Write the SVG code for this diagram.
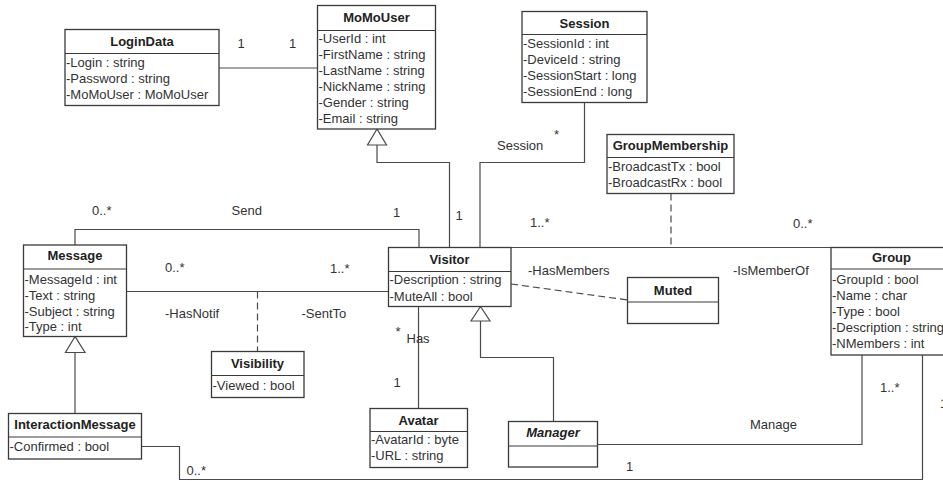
<svg xmlns="http://www.w3.org/2000/svg" width="943" height="481" viewBox="0 0 943 481">
<style>
.box{fill:#fff;stroke:#3a3a3a;stroke-width:1.3}
.div{stroke:#3a3a3a;stroke-width:1.2}
.t{font-family:"Liberation Sans",Arial,sans-serif;font-size:13px;fill:#333}
.ti{font-family:"Liberation Sans",Arial,sans-serif;font-size:13px;font-weight:bold;fill:#222;text-anchor:middle}
.ln{fill:none;stroke:#4a4a4a;stroke-width:1.2}
.dash{fill:none;stroke:#4a4a4a;stroke-width:1.2;stroke-dasharray:7 4}
.tri{fill:#fff;stroke:#4a4a4a;stroke-width:1.2}
</style>
<rect width="943" height="481" fill="#fff"/>
<g id="connectors">
<path class="ln" d="M219,68 H317.5"/>
<path class="ln" d="M377,145 V162.5 H449.5 V247.5"/>
<polygon class="tri" points="377,129 367.5,145 386.5,145"/>
<path class="ln" d="M584.5,102.7 V162.5 H480 V247.5"/>
<path class="ln" d="M75,245 V229.5 H419 V247.5"/>
<path class="ln" d="M126.5,291.5 H388.5"/>
<path class="dash" d="M257.5,291.5 V351.5"/>
<path class="ln" d="M511,247.5 H831"/>
<path class="dash" d="M671,193.5 V247"/>
<path class="dash" d="M511,284 L627.5,300"/>
<path class="ln" d="M418.5,306.5 V408.5"/>
<path class="ln" d="M480.5,321 V357.5 H553.5 V421.5"/>
<polygon class="tri" points="480.5,306.5 471,321 490,321"/>
<path class="ln" d="M75,352.5 V413.5"/>
<polygon class="tri" points="75,336.5 65.5,352.5 85,352.5"/>
<path class="ln" d="M597.5,444.5 H862 V355"/>
<path class="ln" d="M141.5,446.5 H179.5 V479.5 H922.5 V355"/>
<text class="t" x="237.5" y="48">1</text>
<text class="t" x="289" y="48">1</text>
<text class="t" x="497" y="150">Session</text>
<text class="t" x="554" y="138.5">*</text>
<text class="t" x="92" y="215">0..*</text>
<text class="t" x="231.5" y="215">Send</text>
<text class="t" x="393" y="217">1</text>
<text class="t" x="455.5" y="220">1</text>
<text class="t" x="530" y="226.5">1..*</text>
<text class="t" x="793" y="228">0..*</text>
<text class="t" x="165" y="272">0..*</text>
<text class="t" x="165" y="318">-HasNotif</text>
<text class="t" x="301.5" y="318">-SentTo</text>
<text class="t" x="330" y="273">1..*</text>
<text class="t" x="528" y="275">-HasMembers</text>
<text class="t" x="733" y="275">-IsMemberOf</text>
<text class="t" x="395.5" y="336">*</text>
<text class="t" x="406.5" y="343">Has</text>
<text class="t" x="393.5" y="386.5">1</text>
<text class="t" x="750" y="429">Manage</text>
<text class="t" x="880" y="391.5">1..*</text>
<text class="t" x="626" y="471">1</text>
<text class="t" x="186.5" y="475">0..*</text>
<text class="t" x="940" y="408">1</text>
</g>
<g id="LoginData">
<rect class="box" x="65" y="29.5" width="154" height="76"/>
<line class="div" x1="65" y1="53.5" x2="219" y2="53.5"/>
<text class="ti" x="142" y="46">LoginData</text>
<text class="t" x="66" y="67">-Login : string</text>
<text class="t" x="66" y="83">-Password : string</text>
<text class="t" x="66" y="99">-MoMoUser : MoMoUser</text>
</g>
<g id="MoMoUser">
<rect class="box" x="317.5" y="5.5" width="118" height="123.5"/>
<line class="div" x1="317.5" y1="30.5" x2="435.5" y2="30.5"/>
<text class="ti" x="376.5" y="22">MoMoUser</text>
<text class="t" x="318.5" y="43">-UserId : int</text>
<text class="t" x="318.5" y="59">-FirstName : string</text>
<text class="t" x="318.5" y="75">-LastName : string</text>
<text class="t" x="318.5" y="91">-NickName : string</text>
<text class="t" x="318.5" y="107">-Gender : string</text>
<text class="t" x="318.5" y="123">-Email : string</text>
</g>
<g id="Session">
<rect class="box" x="522" y="11.5" width="125" height="91"/>
<line class="div" x1="522" y1="34.5" x2="647" y2="34.5"/>
<text class="ti" x="584.5" y="28">Session</text>
<text class="t" x="523" y="47.5">-SessionId : int</text>
<text class="t" x="523" y="63.5">-DeviceId : string</text>
<text class="t" x="523" y="79.5">-SessionStart : long</text>
<text class="t" x="523" y="95.5">-SessionEnd : long</text>
</g>
<g id="GroupMembership">
<rect class="box" x="607" y="134.5" width="127" height="59"/>
<line class="div" x1="607" y1="157.5" x2="734" y2="157.5"/>
<text class="ti" x="670.5" y="150">GroupMembership</text>
<text class="t" x="608" y="171">-BroadcastTx : bool</text>
<text class="t" x="608" y="187">-BroadcastRx : bool</text>
</g>
<g id="Message">
<rect class="box" x="23.5" y="245" width="103" height="91.5"/>
<line class="div" x1="23.5" y1="269" x2="126.5" y2="269"/>
<text class="ti" x="75" y="260">Message</text>
<text class="t" x="24.5" y="283.5">-MessageId : int</text>
<text class="t" x="24.5" y="299.5">-Text : string</text>
<text class="t" x="24.5" y="315.5">-Subject : string</text>
<text class="t" x="24.5" y="331">-Type : int</text>
</g>
<g id="Visitor">
<rect class="box" x="388.5" y="247.5" width="122.5" height="59"/>
<line class="div" x1="388.5" y1="271.5" x2="511" y2="271.5"/>
<text class="ti" x="449.5" y="264">Visitor</text>
<text class="t" x="389.5" y="284">-Description : string</text>
<text class="t" x="389.5" y="300.5">-MuteAll : bool</text>
</g>
<g id="Visibility">
<rect class="box" x="211.5" y="351.5" width="92.5" height="46"/>
<line class="div" x1="211.5" y1="375.5" x2="304" y2="375.5"/>
<text class="ti" x="257.5" y="367.5">Visibility</text>
<text class="t" x="212.5" y="390">-Viewed : bool</text>
</g>
<g id="InteractionMessage">
<rect class="box" x="8.5" y="413.5" width="133" height="45.5"/>
<line class="div" x1="8.5" y1="437" x2="141.5" y2="437"/>
<text class="ti" x="75" y="429">InteractionMessage</text>
<text class="t" x="9.5" y="451">-Confirmed : bool</text>
</g>
<g id="Avatar">
<rect class="box" x="370" y="408.5" width="97.5" height="59"/>
<line class="div" x1="370" y1="431.5" x2="467.5" y2="431.5"/>
<text class="ti" x="418.5" y="425">Avatar</text>
<text class="t" x="371" y="444">-AvatarId : byte</text>
<text class="t" x="371" y="460">-URL : string</text>
</g>
<g id="Manager">
<rect class="box" x="508.5" y="421.5" width="89" height="45.5"/>
<line class="div" x1="508.5" y1="446" x2="597.5" y2="446"/>
<text class="ti" x="553" y="437" font-style="italic">Manager</text>
</g>
<g id="Muted">
<rect class="box" x="627.5" y="277.5" width="91" height="46"/>
<line class="div" x1="627.5" y1="302" x2="718.5" y2="302"/>
<text class="ti" x="673" y="294.5">Muted</text>
</g>
<g id="Group">
<rect class="box" x="831" y="247.5" width="121" height="107.5"/>
<line class="div" x1="831" y1="269" x2="952" y2="269"/>
<text class="ti" x="891.5" y="262">Group</text>
<text class="t" x="832" y="284">-GroupId : bool</text>
<text class="t" x="832" y="300">-Name : char</text>
<text class="t" x="832" y="316">-Type : bool</text>
<text class="t" x="832" y="332">-Description : string</text>
<text class="t" x="832" y="348">-NMembers : int</text>
</g>
</svg>
